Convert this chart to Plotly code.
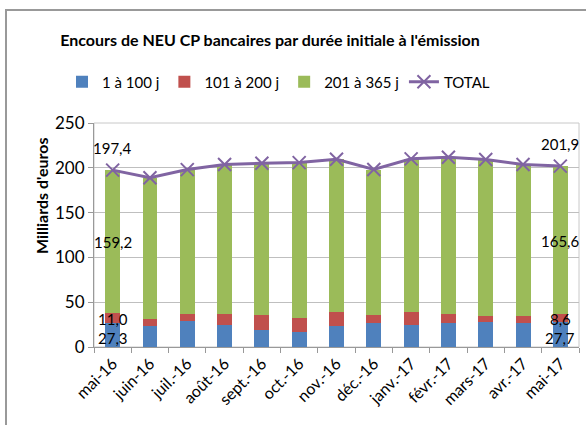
import plotly.graph_objects as go

categories = ["mai-16", "juin-16", "juil.-16", "août-16", "sept.-16", "oct.-16", "nov.-16",
              "déc.-16", "janv.-17", "févr.-17", "mars-17", "avr.-17", "mai-17"]
s_1_100 = [27.3, 23.4, 28.7, 24.6, 19.4, 16.6, 23.4, 26.8, 25.0, 26.8, 28.3, 26.8, 27.7]
s_101_200 = [11.0, 7.5, 8.5, 12.6, 16.0, 15.8, 15.3, 9.3, 13.7, 10.4, 5.9, 7.4, 8.6]
s_201_365 = [159.2, 158.0, 160.8, 166.4, 169.6, 173.4, 170.9, 162.0, 171.3, 174.6, 175.1, 169.4, 165.6]
total = [197.4, 188.9, 198.0, 203.6, 205.0, 205.8, 209.6, 198.1, 210.0, 211.8, 209.3, 203.6, 201.9]

series_names = ["1 à 100 j", "101 à 200 j", "201 à 365 j", "TOTAL"]
y_ticks = [0, 50, 100, 150, 200, 250]

FONT = "Lato, Liberation Sans, sans-serif"
BLUE, RED, GREEN, PURPLE = "#4F81BD", "#C0504D", "#9BBB59", "#8064A2"

W, H = 586, 425
ML, MR, MT, MB = 94, 7, 123, 78
PW, PH = W - ML - MR, H - MT - MB

fig = go.Figure()
for name, vals, col in zip(series_names[:3], [s_1_100, s_101_200, s_201_365], [BLUE, RED, GREEN]):
    fig.add_trace(go.Bar(x=categories, y=vals, name=name, marker=dict(color=col, line=dict(width=0))))
fig.add_trace(go.Scatter(x=categories, y=total, name=series_names[3], mode="lines+markers",
                         line=dict(color=PURPLE, width=3),
                         marker=dict(symbol="x-thin", size=13, line=dict(color=PURPLE, width=2), color=PURPLE)))

def fmt(v):
    return f"{v:.1f}".replace(".", ",")

ann = []
for i in (0, len(categories) - 1):
    a, b, c, t = s_1_100[i], s_101_200[i], s_201_365[i], total[i]
    for yv, val, ys in [(a / 2, a, -3), (a + b / 2, b, -1), (a + b + c / 2, c, -1), (t, t, 22)]:
        ann.append(dict(x=categories[i], y=yv, text=fmt(val), showarrow=False, yshift=ys,
                        xref="x", yref="y", font=dict(size=15, color="#000", family=FONT)))

ann.append(dict(text="<b>Milliards d'euros</b>", textangle=-90, showarrow=False,
                xref="paper", yref="paper", x=(41 - ML) / PW, y=1 - (196 - MT) / PH,
                xanchor="center", yanchor="middle",
                font=dict(size=16, color="#000", family=FONT)))

fig.update_layout(
    width=W, height=H,
    margin=dict(l=ML, r=MR, t=MT, b=MB, autoexpand=False),
    paper_bgcolor="white", plot_bgcolor="white",
    barmode="stack", bargap=0.6,
    font=dict(family=FONT, color="#000", size=15),
    title=dict(text="<b>Encours de NEU CP bancaires par durée initiale à l'émission</b>",
               x=270 / W, xanchor="center", y=1 - 40 / H, yanchor="middle",
               font=dict(size=16, color="#000", family=FONT)),
    showlegend=True,
    legend=dict(orientation="h", traceorder="normal", x=(62 - ML) / PW, xanchor="left",
                y=1 + (MT - 82) / PH, yanchor="middle", font=dict(size=15, family=FONT),
                bgcolor="rgba(0,0,0,0)", itemwidth=30, tracegroupgap=0),
    xaxis=dict(type="category", range=[-0.5, len(categories) - 0.5], tickangle=-45, ticks="outside",
               tickson="boundaries", ticklen=5, automargin=False,
               tickcolor="#999", showline=True, linecolor="#999", linewidth=1, mirror=False,
               tickfont=dict(size=16, family=FONT, color="#000"), showgrid=False),
    yaxis=dict(range=[0, 250], tickvals=y_ticks, ticks="outside", ticklen=5, tickcolor="#999",
               automargin=False,
               showline=True, linecolor="#999", linewidth=1, gridcolor="#BFBFBF", gridwidth=1,
               tickfont=dict(size=17, family=FONT, color="#000"), zeroline=False),
    annotations=ann,
    shapes=[
        dict(type="rect", xref="paper", yref="paper", x0=0, x1=1, y0=0, y1=1,
             line=dict(color="#C8C8C8", width=1), fillcolor="rgba(0,0,0,0)", layer="below"),
        dict(type="rect", xref="paper", yref="paper",
             x0=(6 - ML) / PW, x1=(W + 20 - ML) / PW,
             y0=1 + (MT - H - 20) / PH, y1=1 + (MT - 10) / PH,
             line=dict(color="#999", width=2), fillcolor="rgba(0,0,0,0)"),
    ],
)

fig.write_html("out.html", config={"displayModeBar": False},
               post_script="document.body.style.margin='0';document.body.style.overflow='hidden';")
